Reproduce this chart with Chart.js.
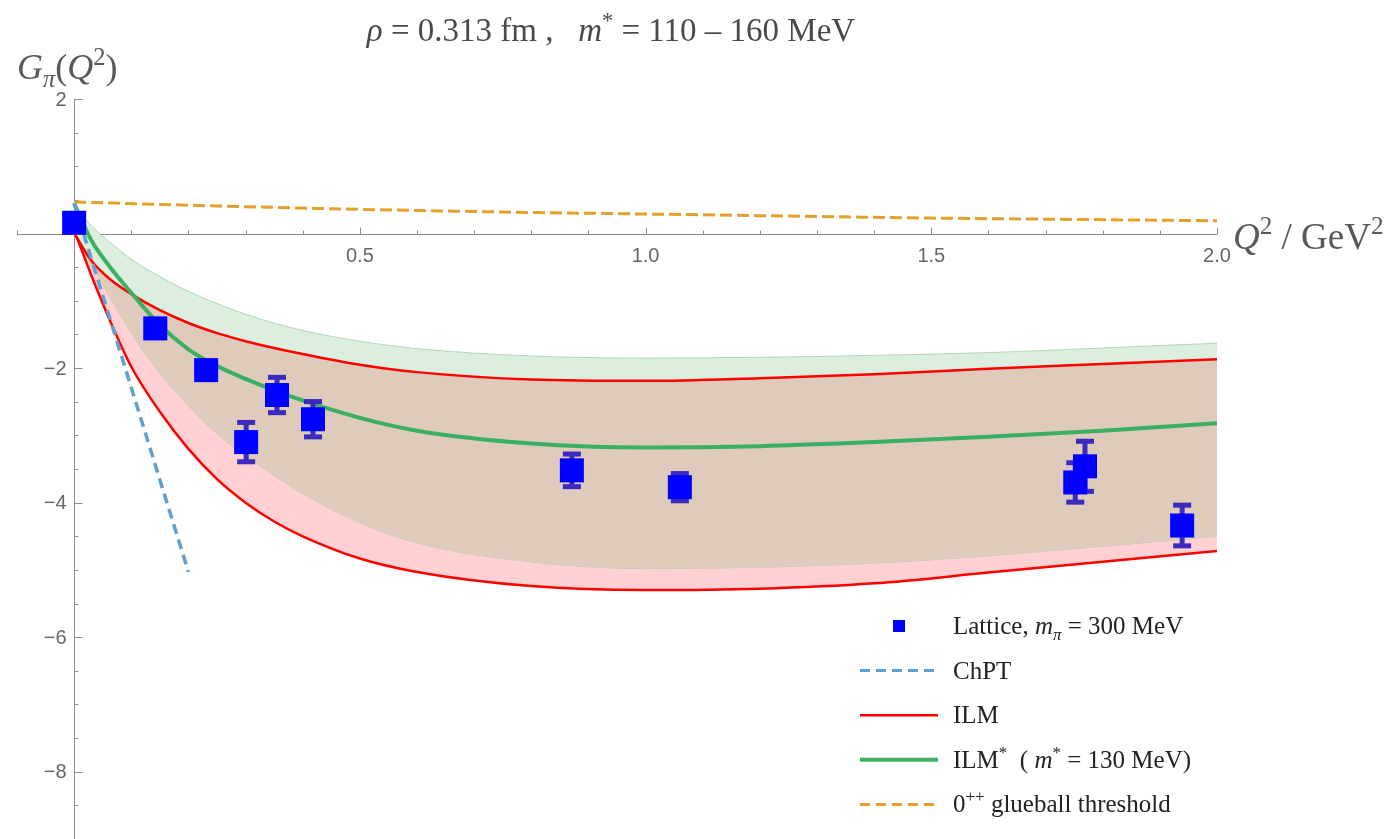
<!DOCTYPE html>
<html><head><meta charset="utf-8">
<script src="https://cdn.jsdelivr.net/npm/chart.js"></script>
<style>html,body{margin:0;padding:0;background:#fff;overflow:hidden}canvas{display:block}</style>
</head><body>
<canvas id="c" width="1392" height="839"></canvas>
<script>
// ---------- data ----------
const xBand          = [0, 0.003, 0.03, 0.063, 0.1, 0.15, 0.2, 0.25, 0.3, 0.35, 0.4, 0.5, 0.6, 0.8, 1.0, 1.2, 1.4, 1.6, 1.8, 2.0];
const ilmStarUpper   = [0.45, 0.41, 0.12, -0.13, -0.38, -0.64, -0.86, -1.04, -1.20, -1.33, -1.44, -1.60, -1.71, -1.82, -1.85, -1.84, -1.81, -1.77, -1.70, -1.63];
const ilmUpper       = [0.02, -0.03, -0.40, -0.68, -0.90, -1.14, -1.33, -1.48, -1.60, -1.70, -1.79, -1.95, -2.06, -2.17, -2.19, -2.15, -2.09, -2.01, -1.94, -1.87];
const ilmStar130     = [0.45, 0.39, -0.10, -0.50, -0.88, -1.36, -1.72, -1.97, -2.16, -2.33, -2.48, -2.74, -2.93, -3.12, -3.18, -3.16, -3.10, -3.02, -2.93, -2.82];
const ilmStarLower   = [0.02, -0.03, -0.45, -0.95, -1.48, -2.08, -2.56, -2.98, -3.30, -3.60, -3.87, -4.30, -4.60, -4.88, -4.98, -4.96, -4.90, -4.79, -4.65, -4.50];
const ilmLower       = [0.02, -0.03, -0.62, -1.30, -1.98, -2.65, -3.20, -3.65, -4.00, -4.28, -4.50, -4.83, -5.03, -5.24, -5.30, -5.28, -5.20, -5.04, -4.88, -4.72];

const xGlue    = [0, 0.25, 0.5, 0.75, 1.0, 1.25, 1.5, 1.75, 2.0];
const glueball = [0.47, 0.41, 0.36, 0.32, 0.29, 0.26, 0.23, 0.21, 0.19];

const xChpt = [0, 0.2];
const chpt  = [0.45, -5.03];

const latticeX   = [0, 0.142, 0.231, 0.301, 0.355, 0.418, 0.871, 1.060, 1.752, 1.769, 1.939];
const latticeY   = [0.16, -1.41, -2.03, -3.10, -2.40, -2.76, -3.52, -3.77, -3.70, -3.46, -4.34];
const latticeErr = [0.05, 0.10, 0.10, 0.30, 0.27, 0.27, 0.25, 0.21, 0.30, 0.38, 0.31];

const xTickValues = [0.5, 1.0, 1.5, 2.0];
const xTickLabels = ['0.5', '1.0', '1.5', '2.0'];
const yTickValues = [-8, -6, -4, -2, 2];
const yTickLabels = ['\u22128', '\u22126', '\u22124', '\u22122', '2'];

// ---------- helpers ----------
const toPts = (xs, ys) => xs.map((x, i) => ({x: x, y: ys[i]}));
const SERIF = '"Liberation Serif", "Times New Roman", serif';
const SANS  = '"Liberation Sans", Arial, sans-serif';

function partFont(p, size) {
  const s = p.s ? size * 0.68 : size;
  return (p.i ? 'italic ' : '') + s.toFixed(1) + 'px ' + SERIF;
}
function richWidth(ctx, parts, size) {
  let w = 0;
  parts.forEach(p => { ctx.font = partFont(p, size); w += ctx.measureText(p.t).width; });
  return w;
}
function drawRich(ctx, parts, x, y, size, color) {
  ctx.save();
  ctx.fillStyle = color;
  ctx.textAlign = 'left';
  ctx.textBaseline = 'alphabetic';
  let cx = x;
  parts.forEach(p => {
    ctx.font = partFont(p, size);
    let dy = 0;
    if (p.s === 'sup') dy = -size * 0.40;
    if (p.s === 'sub') dy = size * 0.22;
    ctx.fillText(p.t, cx, y + dy);
    cx += ctx.measureText(p.t).width;
  });
  ctx.restore();
}

// ---------- colours ----------
const C = {
  red: '#ff0000',
  green: 'rgb(60,176,98)',
  orange: 'rgb(226,160,45)',
  chpt: 'rgb(95,160,208)',
  blue: '#0000ff',
  err: 'rgb(58,42,190)',
  fillGreen: 'rgb(220,239,223)',
  fillBrown: 'rgb(222,203,188)',
  fillPink: 'rgb(255,209,210)',
  edge: 'rgba(130,190,140,0.55)',
  axis: '#8e8e8e',
  tick: '#666666'
};

// ---------- plugins ----------
const axesPlugin = {
  id: 'mmaAxes',
  beforeDatasetsDraw(chart) {
    const ctx = chart.ctx, xs = chart.scales.x, ys = chart.scales.y;
    const x0 = Math.round(xs.getPixelForValue(0)) + 0.5;
    const y0 = Math.round(ys.getPixelForValue(0)) + 0.5;
    ctx.save();
    ctx.strokeStyle = C.axis;
    ctx.lineWidth = 1;
    ctx.beginPath();
    ctx.moveTo(xs.getPixelForValue(xs.min), y0);
    ctx.lineTo(xs.getPixelForValue(xs.max), y0);
    ctx.moveTo(x0, ys.getPixelForValue(ys.max));
    ctx.lineTo(x0, ys.getPixelForValue(ys.min));
    for (let k = -1; k <= 20; k++) {
      if (k === 0) continue;
      const px = Math.round(xs.getPixelForValue(k / 10)) + 0.5;
      const len = (k % 5 === 0) ? 7 : 4;
      ctx.moveTo(px, y0);
      ctx.lineTo(px, y0 - len);
    }
    for (let k = -18; k <= 4; k++) {
      if (k === 0) continue;
      const py = Math.round(ys.getPixelForValue(k / 2)) + 0.5;
      const len = (k % 4 === 0) ? 8 : 4;
      ctx.moveTo(x0, py);
      ctx.lineTo(x0 + len, py);
    }
    ctx.stroke();
    ctx.fillStyle = C.tick;
    ctx.font = '20px ' + SANS;
    ctx.textAlign = 'center';
    ctx.textBaseline = 'alphabetic';
    xTickValues.forEach((v, i) => {
      ctx.fillText(xTickLabels[i], xs.getPixelForValue(v), y0 + 27);
    });
    ctx.textAlign = 'right';
    ctx.textBaseline = 'middle';
    yTickValues.forEach((v, i) => {
      ctx.fillText(yTickLabels[i], x0 - 8, ys.getPixelForValue(v) + 1);
    });
    ctx.restore();
  }
};

const errorBarPlugin = {
  id: 'errorBars',
  beforeDatasetDraw(chart, args) {
    if (args.meta.label !== 'Lattice') return;
    const ctx = chart.ctx, xs = chart.scales.x, ys = chart.scales.y;
    ctx.save();
    ctx.fillStyle = C.err;
    latticeX.forEach((xv, i) => {
      const px = xs.getPixelForValue(xv);
      const top = ys.getPixelForValue(latticeY[i] + latticeErr[i]);
      const bot = ys.getPixelForValue(latticeY[i] - latticeErr[i]);
      ctx.fillRect(px - 2.5, top, 5, bot - top);
      ctx.fillRect(px - 9, top - 2, 18, 5);
      ctx.fillRect(px - 9, bot - 3, 18, 5);
    });
    ctx.restore();
  }
};

const textPlugin = {
  id: 'texts',
  afterDraw(chart) {
    const ctx = chart.ctx;
    const title = [
      {t: '\u03C1', i: true}, {t: ' = 0.313 fm ,   '}, {t: 'm', i: true}, {t: '*', s: 'sup'},
      {t: ' = 110 \u2013 160 MeV'}
    ];
    const tw = richWidth(ctx, title, 33);
    drawRich(ctx, title, 611 - tw / 2, 41, 33, '#4a4a4a');
    drawRich(ctx, [{t: 'G', i: true}, {t: '\u03C0', i: true, s: 'sub'}, {t: '('}, {t: 'Q', i: true}, {t: '2', s: 'sup'}, {t: ')'}],
      17, 79, 36, '#595959');
    drawRich(ctx, [{t: 'Q', i: true}, {t: '2', s: 'sup'}, {t: ' / GeV'}, {t: '2', s: 'sup'}],
      1233, 249, 37, '#595959');

    // legend
    const lx0 = 860, lx1 = 938, tx = 953, rowTop = 626, gap = 44.6, fs = 25;
    ctx.save();
    ctx.fillStyle = C.blue;
    ctx.fillRect(893, rowTop - 6, 12, 12);
    const lineSample = (yy, color, w, dash) => {
      ctx.beginPath();
      ctx.strokeStyle = color; ctx.lineWidth = w; ctx.setLineDash(dash);
      ctx.moveTo(lx0, yy); ctx.lineTo(lx1, yy); ctx.stroke();
    };
    lineSample(rowTop + gap, C.chpt, 3, [10, 6]);
    lineSample(rowTop + 2 * gap, C.red, 2.5, []);
    lineSample(rowTop + 3 * gap, C.green, 4, []);
    lineSample(rowTop + 4 * gap, C.orange, 3, [10, 6]);
    ctx.restore();
    const col = '#222';
    const bl = 8;
    drawRich(ctx, [{t: 'Lattice, '}, {t: 'm', i: true}, {t: '\u03C0', i: true, s: 'sub'}, {t: ' = 300 MeV'}], tx, rowTop + bl, fs, col);
    drawRich(ctx, [{t: 'ChPT'}], tx, rowTop + gap + bl, fs, col);
    drawRich(ctx, [{t: 'ILM'}], tx, rowTop + 2 * gap + bl, fs, col);
    drawRich(ctx, [{t: 'ILM'}, {t: '*', s: 'sup'}, {t: '  ( '}, {t: 'm', i: true}, {t: '*', s: 'sup'}, {t: ' = 130 MeV)'}], tx, rowTop + 3 * gap + bl, fs, col);
    drawRich(ctx, [{t: '0'}, {t: '++', s: 'sup'}, {t: ' glueball threshold'}], tx, rowTop + 4 * gap + bl, fs, col);
  }
};

// ---------- chart ----------
const lineDs = (label, xs, ys, extra) => Object.assign({
  label: label,
  data: toPts(xs, ys),
  showLine: true,
  pointRadius: 0,
  borderCapStyle: 'butt',
  cubicInterpolationMode: 'monotone',
  fill: false
}, extra);

new Chart(document.getElementById('c'), {
  type: 'line',
  data: {
    datasets: [
      { label: 'Lattice', data: toPts(latticeX, latticeY), showLine: false, pointStyle: 'rect',
        pointRadius: 17, pointBackgroundColor: C.blue, pointBorderWidth: 0, pointBorderColor: C.blue, order: 0 },
      lineDs('ChPT', xChpt, chpt, {borderColor: C.chpt, borderWidth: 3.5, borderDash: [10, 6], order: 1}),
      lineDs('glueball', xGlue, glueball, {borderColor: C.orange, borderWidth: 3, borderDash: [12, 5], order: 2}),
      lineDs('ILM* 130', xBand, ilmStar130, {borderColor: C.green, borderWidth: 4, order: 3}),
      lineDs('ILM upper', xBand, ilmUpper, {borderColor: C.red, borderWidth: 2.5, order: 4, fill: 6, backgroundColor: C.fillBrown}),
      lineDs('ILM lower', xBand, ilmLower, {borderColor: C.red, borderWidth: 2.5, order: 5}),
      lineDs('ILM* lower', xBand, ilmStarLower, {borderColor: C.edge, borderWidth: 1, order: 6, fill: 5, backgroundColor: C.fillPink}),
      lineDs('ILM* upper', xBand, ilmStarUpper, {borderColor: C.edge, borderWidth: 1, order: 7, fill: 4, backgroundColor: C.fillGreen})
    ]
  },
  options: {
    responsive: false,
    animation: false,
    events: [],
    layout: { autoPadding: false, padding: { left: 17, right: 175, top: 99, bottom: 0 } },
    scales: {
      x: { type: 'linear', min: -0.1, max: 2.0, display: false },
      y: { type: 'linear', min: -9, max: 2, display: false }
    },
    plugins: { legend: { display: false }, tooltip: { enabled: false }, title: { display: false } }
  },
  plugins: [axesPlugin, errorBarPlugin, textPlugin]
});
</script>
</body></html>
